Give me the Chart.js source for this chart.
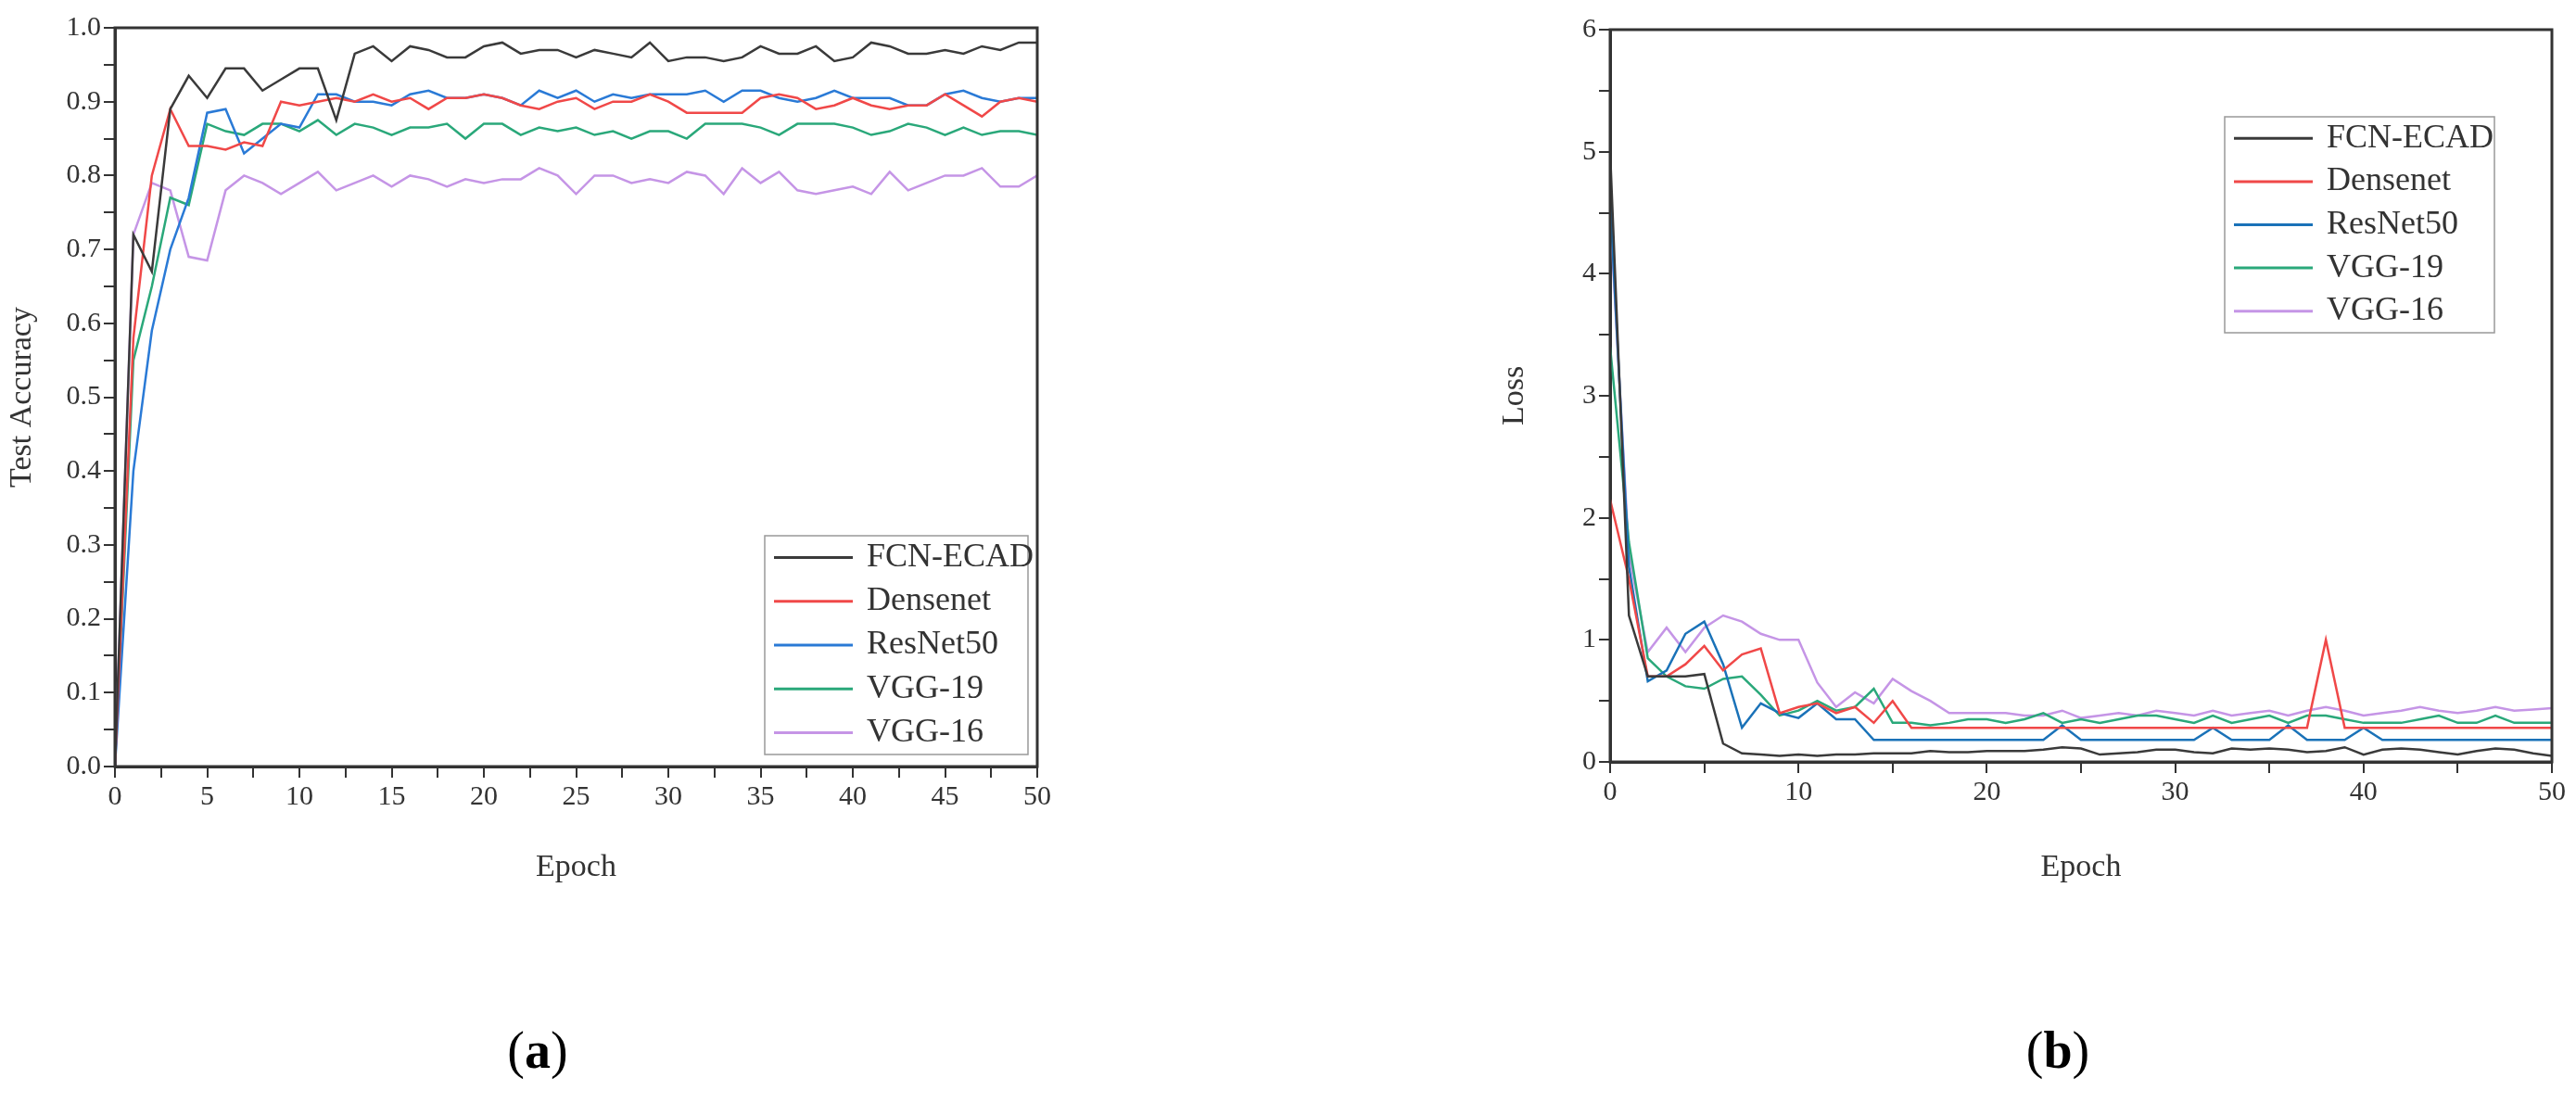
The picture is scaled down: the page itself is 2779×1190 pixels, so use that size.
<!DOCTYPE html>
<html>
<head>
<meta charset="utf-8">
<script src="https://cdn.jsdelivr.net/npm/chart.js@4.4.0/dist/chart.umd.min.js"></script>
<style>
  body { margin: 0; background: #fff; width: 2779px; height: 1190px; position: relative; overflow: hidden; }
  .box { position: absolute; }
  .cap { position: absolute; font-family: "Liberation Serif", serif; font-size: 56px; color: #000; transform: translate(-50%, -50%); }
  .cap b { font-weight: bold; }
</style>
</head>
<body>
<div class="box" style="left:0;top:0;width:1170px;height:960px"><canvas id="acc"></canvas></div>
<div class="box" style="left:1610px;top:0;width:1169px;height:960px"><canvas id="loss"></canvas></div>
<div class="cap" style="left:580px;top:1133px">(<b>a</b>)</div>
<div class="cap" style="left:2220px;top:1133px">(<b>b</b>)</div>
<script>
const epochs = Array.from({ length: 51 }, (_, i) => i);
const names = ["FCN-ECAD", "Densenet", "ResNet50", "VGG-19", "VGG-16"];
const colorsAcc = ["#3a3a3a", "#f04848", "#2a7ad6", "#2aa87a", "#c595e6"];
const colorsLoss = ["#3a3a3a", "#f04848", "#1a72b8", "#2aa87a", "#c595e6"];

const accFcn = [0, 0.72, 0.67, 0.89, 0.935, 0.905, 0.945, 0.945, 0.915, 0.93, 0.945, 0.945, 0.875, 0.965, 0.975, 0.955, 0.975, 0.97, 0.96, 0.96, 0.975, 0.98, 0.965, 0.97, 0.97, 0.96, 0.97, 0.965, 0.96, 0.98, 0.955, 0.96, 0.96, 0.955, 0.96, 0.975, 0.965, 0.965, 0.975, 0.955, 0.96, 0.98, 0.975, 0.965, 0.965, 0.97, 0.965, 0.975, 0.97, 0.98, 0.98];
const accDense = [0, 0.58, 0.80, 0.89, 0.84, 0.84, 0.835, 0.845, 0.84, 0.90, 0.895, 0.90, 0.905, 0.90, 0.91, 0.90, 0.905, 0.89, 0.905, 0.905, 0.91, 0.905, 0.895, 0.89, 0.90, 0.905, 0.89, 0.90, 0.90, 0.91, 0.90, 0.885, 0.885, 0.885, 0.885, 0.905, 0.91, 0.905, 0.89, 0.895, 0.905, 0.895, 0.89, 0.895, 0.895, 0.91, 0.895, 0.88, 0.90, 0.905, 0.90];
const accRes = [0, 0.40, 0.59, 0.70, 0.77, 0.885, 0.89, 0.83, 0.85, 0.87, 0.865, 0.91, 0.91, 0.90, 0.90, 0.895, 0.91, 0.915, 0.905, 0.905, 0.91, 0.905, 0.895, 0.915, 0.905, 0.915, 0.90, 0.91, 0.905, 0.91, 0.91, 0.91, 0.915, 0.90, 0.915, 0.915, 0.905, 0.90, 0.905, 0.915, 0.905, 0.905, 0.905, 0.895, 0.895, 0.91, 0.915, 0.905, 0.90, 0.905, 0.905];
const accVgg19 = [0, 0.55, 0.65, 0.77, 0.76, 0.87, 0.86, 0.855, 0.87, 0.87, 0.86, 0.875, 0.855, 0.87, 0.865, 0.855, 0.865, 0.865, 0.87, 0.85, 0.87, 0.87, 0.855, 0.865, 0.86, 0.865, 0.855, 0.86, 0.85, 0.86, 0.86, 0.85, 0.87, 0.87, 0.87, 0.865, 0.855, 0.87, 0.87, 0.87, 0.865, 0.855, 0.86, 0.87, 0.865, 0.855, 0.865, 0.855, 0.86, 0.86, 0.855];
const accVgg16 = [0, 0.72, 0.79, 0.78, 0.69, 0.685, 0.78, 0.80, 0.79, 0.775, 0.79, 0.805, 0.78, 0.79, 0.80, 0.785, 0.80, 0.795, 0.785, 0.795, 0.79, 0.795, 0.795, 0.81, 0.80, 0.775, 0.80, 0.80, 0.79, 0.795, 0.79, 0.805, 0.80, 0.775, 0.81, 0.79, 0.805, 0.78, 0.775, 0.78, 0.785, 0.775, 0.805, 0.78, 0.79, 0.80, 0.80, 0.81, 0.785, 0.785, 0.80];

const lossFcn = [5.0, 1.2, 0.7, 0.7, 0.7, 0.72, 0.15, 0.07, 0.06, 0.05, 0.06, 0.05, 0.06, 0.06, 0.07, 0.07, 0.07, 0.09, 0.08, 0.08, 0.09, 0.09, 0.09, 0.1, 0.12, 0.11, 0.06, 0.07, 0.08, 0.1, 0.1, 0.08, 0.07, 0.11, 0.1, 0.11, 0.1, 0.08, 0.09, 0.12, 0.06, 0.1, 0.11, 0.1, 0.08, 0.06, 0.09, 0.11, 0.1, 0.07, 0.05];
const lossDense = [2.15, 1.5, 0.7, 0.7, 0.8, 0.95, 0.75, 0.88, 0.93, 0.4, 0.45, 0.48, 0.4, 0.45, 0.32, 0.5, 0.28, 0.28, 0.28, 0.28, 0.28, 0.28, 0.28, 0.28, 0.28, 0.28, 0.28, 0.28, 0.28, 0.28, 0.28, 0.28, 0.28, 0.28, 0.28, 0.28, 0.28, 0.28, 1.0, 0.28, 0.28, 0.28, 0.28, 0.28, 0.28, 0.28, 0.28, 0.28, 0.28, 0.28, 0.28];
const lossRes = [4.6, 1.6, 0.66, 0.75, 1.05, 1.15, 0.8, 0.28, 0.48, 0.4, 0.36, 0.48, 0.35, 0.35, 0.18, 0.18, 0.18, 0.18, 0.18, 0.18, 0.18, 0.18, 0.18, 0.18, 0.3, 0.18, 0.18, 0.18, 0.18, 0.18, 0.18, 0.18, 0.28, 0.18, 0.18, 0.18, 0.3, 0.18, 0.18, 0.18, 0.28, 0.18, 0.18, 0.18, 0.18, 0.18, 0.18, 0.18, 0.18, 0.18, 0.18];
const lossVgg19 = [3.4, 1.8, 0.85, 0.7, 0.62, 0.6, 0.68, 0.7, 0.55, 0.38, 0.42, 0.5, 0.42, 0.45, 0.6, 0.32, 0.32, 0.3, 0.32, 0.35, 0.35, 0.32, 0.35, 0.4, 0.32, 0.35, 0.32, 0.35, 0.38, 0.38, 0.35, 0.32, 0.38, 0.32, 0.35, 0.38, 0.32, 0.38, 0.38, 0.35, 0.32, 0.32, 0.32, 0.35, 0.38, 0.32, 0.32, 0.38, 0.32, 0.32, 0.32];
const lossVgg16 = [4.5, 1.7, 0.9, 1.1, 0.9, 1.1, 1.2, 1.15, 1.05, 1.0, 1.0, 0.65, 0.45, 0.57, 0.48, 0.68, 0.58, 0.5, 0.4, 0.4, 0.4, 0.4, 0.38, 0.38, 0.42, 0.36, 0.38, 0.4, 0.38, 0.42, 0.4, 0.38, 0.42, 0.38, 0.4, 0.42, 0.38, 0.42, 0.45, 0.42, 0.38, 0.4, 0.42, 0.45, 0.42, 0.4, 0.42, 0.45, 0.42, 0.43, 0.44];

const FONT = "'Liberation Serif', 'DejaVu Serif', serif";
const INK = "#333";

// frame around the plot area + legend box drawn inside it
const framePlugin = {
    id: "frame",
    afterDraw(chart, args, opts) {
        const { ctx, chartArea: a } = chart;
        ctx.save();
        ctx.strokeStyle = INK;
        ctx.lineWidth = 3;
        ctx.strokeRect(a.left, a.top, a.right - a.left, a.bottom - a.top);

        const lg = opts.legend;
        ctx.lineWidth = 1.5;
        ctx.strokeStyle = "#999";
        ctx.strokeRect(lg.x, lg.y, lg.w, lg.h);
        ctx.font = "36px " + FONT;
        ctx.textBaseline = "middle";
        const rowH = lg.h / chart.data.datasets.length;
        chart.data.datasets.forEach((ds, i) => {
            const cy = lg.y + rowH * (i + 0.5);
            ctx.strokeStyle = ds.borderColor;
            ctx.lineWidth = 3;
            ctx.beginPath();
            ctx.moveTo(lg.x + 10, cy);
            ctx.lineTo(lg.x + 95, cy);
            ctx.stroke();
            ctx.fillStyle = INK;
            ctx.fillText(ds.label, lg.x + 110, cy);
        });
        ctx.restore();
    }
};

function makeChart(id, series, colors, cfg) {
    const datasets = series.map((s, i) => ({
        label: names[i],
        data: epochs.map((e, j) => ({ x: e, y: s[j] })),
        borderColor: colors[i],
        borderWidth: 2.5,
        pointRadius: 0,
        tension: 0,
        fill: false
    }));
    const tickFont = { family: FONT, size: 30 };
    new Chart(document.getElementById(id), {
        type: "line",
        data: { datasets },
        plugins: [framePlugin],
        options: {
            responsive: true,
            maintainAspectRatio: false,
            animation: false,
            layout: { padding: { top: cfg.top, right: cfg.right } },
            plugins: {
                legend: { display: false },
                tooltip: { enabled: false },
                frame: { legend: cfg.legend }
            },
            scales: {
                x: {
                    type: "linear", min: 0, max: 50,
                    ticks: {
                        stepSize: cfg.xMinor, color: INK, font: tickFont, maxRotation: 0, autoSkip: false,
                        callback: v => (Math.abs(v % cfg.xMajor) < 1e-9 ? v : "")
                    },
                    grid: { drawOnChartArea: false, tickLength: 12, color: INK, lineWidth: 2 },
                    border: { color: INK, width: 3 },
                    title: { display: true, text: "Epoch", color: INK, font: { family: FONT, size: 34 }, padding: { top: 14 } },
                    afterFit: s => { s.height = cfg.xHeight; }
                },
                y: {
                    min: 0, max: cfg.yMax,
                    ticks: {
                        stepSize: cfg.yMinor, color: INK, font: tickFont, autoSkip: false,
                        callback: v => {
                            const r = Math.round(v / cfg.yMajor * 1000) / 1000;
                            return Number.isInteger(r) ? v.toFixed(cfg.yDec) : "";
                        }
                    },
                    grid: { drawOnChartArea: false, tickLength: 12, color: INK, lineWidth: 2 },
                    border: { color: INK, width: 3 },
                    title: { display: true, text: cfg.yTitle, color: INK, font: { family: FONT, size: 34 } },
                    afterFit: s => { s.width = cfg.yWidth; }
                }
            }
        }
    });
}

makeChart("acc", [accFcn, accDense, accRes, accVgg19, accVgg16], colorsAcc, {
    top: 30, right: 51, xHeight: 133, yWidth: 124,
    xMinor: 2.5, xMajor: 5, yMax: 1.0, yMinor: 0.05, yMajor: 0.1, yDec: 1,
    yTitle: "Test Accuracy",
    legend: { x: 825, y: 578, w: 284, h: 236 }
});

makeChart("loss", [lossFcn, lossDense, lossRes, lossVgg19, lossVgg16], colorsLoss, {
    top: 32, right: 26, xHeight: 138, yWidth: 127,
    xMinor: 5, xMajor: 10, yMax: 6, yMinor: 0.5, yMajor: 1, yDec: 0,
    yTitle: "Loss",
    legend: { x: 790, y: 126, w: 291, h: 233 }
});
</script>
</body>
</html>
